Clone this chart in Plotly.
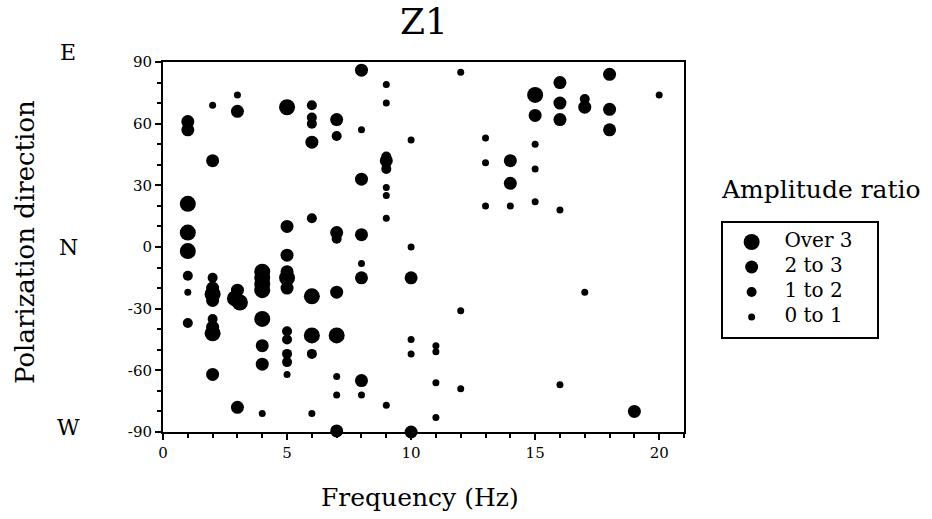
import plotly.graph_objects as go

# Frequency (Hz) and polarization direction (deg) for each amplitude-ratio class
over3_f = [1, 1, 1, 2, 2, 2.9, 3.1, 4, 4, 4, 4, 4, 5, 5, 6, 6, 7, 15]
over3_a = [21, 7, -2, -23, -42, -25, -27, -12, -15, -18, -21, -35, 68, -15, -24, -43, -43, 74]

r23_f = [1, 1, 2, 2, 2, 2, 2, 3, 3, 3, 4, 4, 5, 5, 5, 5, 6, 7, 7, 7, 7, 8, 8, 8, 8, 8, 9,
         10, 10, 14, 14, 15, 16, 16, 16, 17, 18, 18, 18, 19]
r23_a = [61, 57, 42, -20, -26, -39, -62, 66, -21, -78, -48, -57, 10, -4, -12, -20, 51, 62, 7,
         -22, -89.5, 86, 33, 6, -15, -65, 42, -15, -90, 42, 31, 64, 80, 70, 62, 68, 84, 67, 57, -80]

r12_f = [1, 1, 2, 2, 5, 5, 5, 5, 6, 6, 6, 6, 6, 7, 7, 9, 9, 17]
r12_a = [-14, -37, -15, -35, -41, -45, -52, -56, 69, 63, 60, 14, -52, 54, 4, 44, 38, 72]

r01_f = [1, 2, 3, 4, 5, 6, 7, 7, 8, 8, 8, 9, 9, 9, 9, 9, 9, 10, 10, 10, 10, 11, 11, 11, 11,
         12, 12, 12, 13, 13, 13, 14, 15, 15, 15, 16, 16, 17, 20]
r01_a = [-22, 69, 74, -81, -62, -81, -63, -72, 57, -8, -72, 79, 70, 29, 25, 14, -77, 52, 0, -45,
         -52, -48, -51, -66, -83, 85, -31, -69, 53, 41, 20, 20, 50, 38, 22, 18, -67, -22, 74]

classes = ["Over 3", "2 to 3", "1 to 2", "0 to 1"]
xs = [over3_f, r23_f, r12_f, r01_f]
ys = [over3_a, r23_a, r12_a, r01_a]
sizes = [16, 13, 10, 7]

y_ticks = [-90, -60, -30, 0, 30, 60, 90]
y_ticktext = ["-90", "-60", "-30", "0", "30", "60", "90"]
x_ticks = [0, 5, 10, 15, 20]
dir_labels = ["E", "N", "W"]

FONT = "DejaVu Serif"

W, H = 932, 519
L, R, T, B = 163, 0, 62, 87
pw = W - L - R
ph = H - T - B
PLOT_RIGHT = 684


def px(xp):
    return (xp - L) / pw


def py(yp):
    return (H - B - yp) / ph


fig = go.Figure()
for name, x, y, s in zip(classes, xs, ys, sizes):
    fig.add_trace(go.Scatter(x=x, y=y, mode="markers", name=name, showlegend=False,
                             marker=dict(color="black", size=s, opacity=1, line=dict(width=0)),
                             cliponaxis=False, xaxis="x", yaxis="y"))

# key (amplitude ratio legend) drawn on its own hidden axes
key_box = (722, 878, 222, 338)
key_rows_px = [242, 267, 292, 317]
key_y = [(key_box[3] - r) / (key_box[3] - key_box[2]) for r in key_rows_px]
fig.add_trace(go.Scatter(x=[0.19] * 4, y=key_y, mode="markers", showlegend=False,
                         marker=dict(color="black", size=sizes, opacity=1, line=dict(width=0)),
                         xaxis="x2", yaxis="y2", hoverinfo="skip", cliponaxis=False))
fig.add_trace(go.Scatter(x=[0.40] * 4, y=key_y, mode="text", text=classes,
                         textposition="middle right", showlegend=False,
                         textfont=dict(family=FONT, size=20, color="black"),
                         xaxis="x2", yaxis="y2", hoverinfo="skip", cliponaxis=False))

axis_common = dict(showline=True, linecolor="black", linewidth=2, mirror=True,
                   ticks="outside", ticklen=6, tickwidth=2, tickcolor="black",
                   showgrid=False, zeroline=False,
                   tickfont=dict(family=FONT, size=15, color="black"))

annotations = [
    dict(text="Z1", x=px(424), y=py(21), xref="paper", yref="paper", showarrow=False,
         font=dict(family=FONT, size=36, color="black"), xanchor="center", yanchor="middle"),
    dict(text="Polarization direction", x=px(25), y=py(242), xref="paper", yref="paper",
         showarrow=False, textangle=-90, font=dict(family=FONT, size=26, color="black"),
         xanchor="center", yanchor="middle"),
    dict(text="Frequency (Hz)", x=px(420), y=py(497), xref="paper", yref="paper",
         showarrow=False, font=dict(family=FONT, size=25, color="black"),
         xanchor="center", yanchor="middle"),
    dict(text="Amplitude ratio", x=px(719), y=py(189), xref="paper", yref="paper",
         showarrow=False, font=dict(family=FONT, size=25, color="black"),
         xanchor="left", yanchor="middle"),
]
dir_py = [52, 247, 427]
for lab, yp in zip(dir_labels, dir_py):
    annotations.append(dict(text=lab, x=px(68), y=py(yp), xref="paper", yref="paper",
                            showarrow=False, font=dict(family=FONT, size=22, color="black"),
                            xanchor="center", yanchor="middle"))

fig.update_layout(
    width=W, height=H,
    margin=dict(l=L, r=R, t=T, b=B),
    paper_bgcolor="white", plot_bgcolor="white",
    showlegend=False,
    xaxis=dict(domain=[0, px(PLOT_RIGHT)], range=[0, 21], tickvals=x_ticks,
               minor=dict(dtick=1, ticks="outside", ticklen=4, tickwidth=2, tickcolor="black"),
               **axis_common),
    yaxis=dict(domain=[0, 1], range=[-90, 90], tickvals=y_ticks, ticktext=y_ticktext,
               minor=dict(dtick=10, ticks="outside", ticklen=4, tickwidth=2, tickcolor="black"),
               **axis_common),
    xaxis2=dict(domain=[px(key_box[0]), px(key_box[1])], range=[0, 1], visible=False,
                anchor="y2", fixedrange=True),
    yaxis2=dict(domain=[py(key_box[3]), py(key_box[2])], range=[0, 1], visible=False,
                anchor="x2", fixedrange=True),
    annotations=annotations,
    shapes=[dict(type="rect", xref="paper", yref="paper",
                 x0=px(key_box[0]), x1=px(key_box[1]), y0=py(key_box[3]), y1=py(key_box[2]),
                 line=dict(color="black", width=2))],
)

fig.write_html("out.html")
